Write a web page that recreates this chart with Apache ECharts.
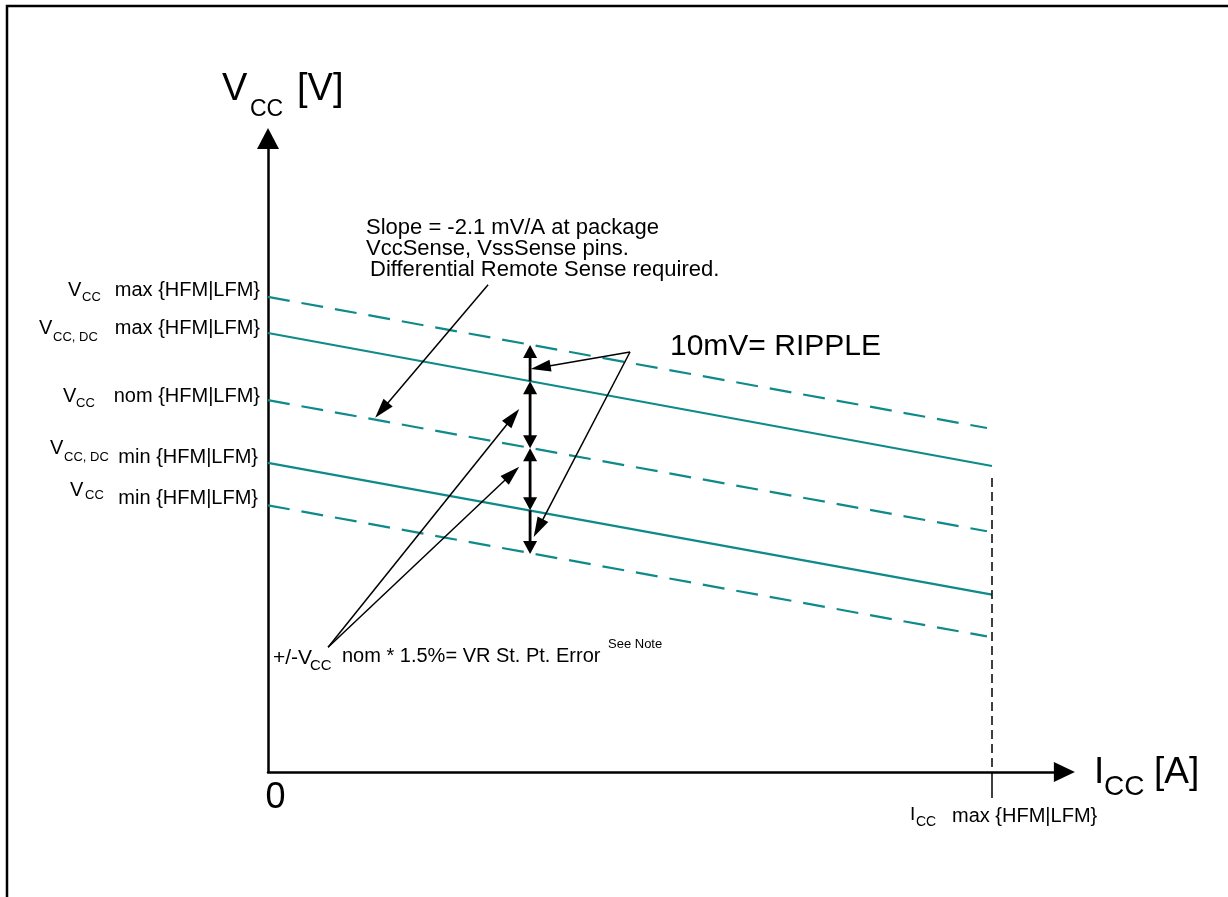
<!DOCTYPE html>
<html>
<head>
<meta charset="utf-8">
<script src="https://cdn.jsdelivr.net/npm/echarts@6/dist/echarts.min.js"></script>
<style>
html,body{margin:0;padding:0;background:#fff;}
#chart{width:1228px;height:897px;}
</style>
</head>
<body>
<div id="chart"></div>
<script>
// ---- data (arbitrary schematic units: x = Icc, y = Vcc) ----
const xRange = [0, 110];
const yRange = [0, 100];
const vccMax   = [[0, 75.0], [99.3, 54.3]];
const vccDcMax = [[0, 69.3], [100, 48.3]];
const vccNom   = [[0, 58.7], [99.3, 38.0]];
const vccDcMin = [[0, 48.8], [100, 28.0]];
const vccMin   = [[0, 42.1], [99.3, 21.4]];
const iccMaxMarker = [[100, 46.4], [100, 0]];
const iccMaxTick   = [[100, 0], [100, -4.1]];
// vertical tolerance arrows: [x1, y1, x2, y2, headAtStart, headAtEnd]
const toleranceArrows = [
  [36.2, 61.7, 36.2, 67.4, 0, 1],
  [36.2, 51.1, 36.2, 61.7, 1, 1],
  [36.2, 41.3, 36.2, 51.1, 1, 1],
  [36.2, 41.3, 36.2, 34.4, 0, 1]
];
// callout arrows: [x1, y1, x2, y2, headAtStart, headAtEnd]
const calloutArrows = [
  [50.0, 66.3, 36.3, 63.6, 0, 1],
  [50.0, 66.3, 36.7, 37.1, 0, 1],
  [30.4, 76.9, 14.8, 55.9, 0, 1],
  [8.3, 19.7, 34.7, 57.3, 0, 1],
  [8.3, 19.7, 34.7, 48.2, 0, 1]
];
// texts
const levelMain = ['V', 'V', 'V', 'V', 'V'];
const levelSub  = ['CC', 'CC, DC', 'CC', 'CC, DC', 'CC'];
const levelRest = ['max {HFM|LFM}', 'max {HFM|LFM}', 'nom {HFM|LFM}', 'min {HFM|LFM}', 'min {HFM|LFM}'];
const slopeNote = ['Slope = -2.1 mV/A at package', 'VccSense, VssSense pins.', 'Differential Remote Sense required.'];
const rippleNote = '10mV= RIPPLE';
const errorNote = ['+/-V', 'CC', 'nom * 1.5%= VR St. Pt. Error', 'See Note'];
const yTitle = ['V', 'CC', '[V]'];
const xTitle = ['I', 'CC', '[A]'];
const xTickLabels = ['0', 'I', 'CC', 'max {HFM|LFM}'];

const FF = '"Liberation Sans", Arial, sans-serif';
const TEAL = '#0f8a8a';

function T(text, x, y, size, align) {
  align = align || 'left';
  return {
    type: 'text', x: x, y: y, silent: true, z: 50,
    style: {
      text: text, fontSize: size, fontFamily: FF, fill: '#000',
      align: align, verticalAlign: 'middle',
      textAlign: align, textVerticalAlign: 'middle'
    }
  };
}

function arrowRenderer(headLen, headW, lw) {
  return function (params, api) {
    const p1 = api.coord([api.value(0), api.value(1)]);
    const p2 = api.coord([api.value(2), api.value(3)]);
    const hs = api.value(4), he = api.value(5);
    const dx = p2[0] - p1[0], dy = p2[1] - p1[1];
    const L = Math.hypot(dx, dy) || 1;
    const ux = dx / L, uy = dy / L;
    const nx = -uy, ny = ux;
    const a = hs ? [p1[0] + ux * headLen * 0.7, p1[1] + uy * headLen * 0.7] : p1;
    const b = he ? [p2[0] - ux * headLen * 0.7, p2[1] - uy * headLen * 0.7] : p2;
    const children = [{
      type: 'line',
      shape: { x1: a[0], y1: a[1], x2: b[0], y2: b[1] },
      style: { stroke: '#000', lineWidth: lw }
    }];
    function head(tip, sx, sy) {
      const bx = tip[0] - sx * headLen, by = tip[1] - sy * headLen;
      return {
        type: 'polygon',
        shape: { points: [tip, [bx + nx * headW / 2, by + ny * headW / 2], [bx - nx * headW / 2, by - ny * headW / 2]] },
        style: { fill: '#000' }
      };
    }
    if (he) children.push(head(p2, ux, uy));
    if (hs) children.push(head(p1, -ux, -uy));
    return { type: 'group', children: children };
  };
}

const levelPos = [
  { r: 260, ry: 290,   vx: 68, vy: 290,   sx: 82, sy: 297.5 },
  { r: 260, ry: 328,   vx: 39, vy: 328,   sx: 53, sy: 337 },
  { r: 260, ry: 396.5, vx: 63, vy: 396.7, sx: 76, sy: 403 },
  { r: 258, ry: 457,   vx: 50, vy: 448.3, sx: 64, sy: 457 },
  { r: 258, ry: 498.3, vx: 70, vy: 490,   sx: 85, sy: 495 }
];

const graphics = [
  { type: 'polyline', silent: true, shape: { points: [[7, 897], [7, 6], [1228, 6]] }, style: { stroke: '#000', lineWidth: 2.5, fill: null } },
  T(yTitle[0], 222, 90, 38), T(yTitle[1], 250, 110, 23), T(yTitle[2], 297, 90, 38),
  T(xTitle[0], 1094, 773, 37), T(xTitle[1], 1104, 787, 28), T(xTitle[2], 1154, 773, 37),
  T(xTickLabels[0], 265.5, 798, 36),
  T(xTickLabels[1], 910, 815, 19), T(xTickLabels[2], 916, 822, 14), T(xTickLabels[3], 952, 816, 20),
  T(slopeNote[0], 366, 228, 22), T(slopeNote[1], 366, 249, 22), T(slopeNote[2], 370, 269.5, 22),
  T(rippleNote, 670, 347, 30),
  T(errorNote[0], 273, 658, 21), T(errorNote[1], 310, 666, 15), T(errorNote[2], 342, 656.5, 20), T(errorNote[3], 608, 644, 13)
];
levelPos.forEach(function (p, i) {
  graphics.push(T(levelRest[i], p.r, p.ry, 20, 'right'));
  graphics.push(T(levelMain[i], p.vx, p.vy, 20));
  graphics.push(T(levelSub[i], p.sx, p.sy, 13));
});

function levelSeries(name, data, dashed) {
  return {
    name: name, type: 'line', data: data, showSymbol: false, symbol: 'none', silent: true,
    lineStyle: { color: TEAL, width: 2.2, type: dashed ? [22, 12] : 'solid' }, z: 3
  };
}

const chart = echarts.init(document.getElementById('chart'), null, { renderer: 'canvas' });
chart.setOption({
  animation: false,
  backgroundColor: '#fff',
  grid: { left: 268, top: 138.5, width: 796.4, bottom: 125, containLabel: false },
  xAxis: {
    type: 'value', min: xRange[0], max: xRange[1],
    axisLine: { show: true, symbol: ['none', 'triangle'], symbolSize: [20, 21], lineStyle: { color: '#000', width: 2.5 } },
    axisTick: { show: false }, axisLabel: { show: false }, splitLine: { show: false }
  },
  yAxis: {
    type: 'value', min: yRange[0], max: yRange[1],
    axisLine: { show: true, symbol: ['none', 'triangle'], symbolSize: [22, 21], lineStyle: { color: '#000', width: 2.5 } },
    axisTick: { show: false }, axisLabel: { show: false }, splitLine: { show: false }
  },
  series: [
    levelSeries('Vcc max', vccMax, true),
    levelSeries('Vcc,dc max', vccDcMax, false),
    levelSeries('Vcc nom', vccNom, true),
    levelSeries('Vcc,dc min', vccDcMin, false),
    levelSeries('Vcc min', vccMin, true),
    { name: 'Icc max', type: 'line', data: iccMaxMarker, showSymbol: false, symbol: 'none', silent: true, clip: false,
      lineStyle: { color: '#000', width: 1.5, type: [9, 5] } },
    { name: 'Icc max tick', type: 'line', data: iccMaxTick, showSymbol: false, symbol: 'none', silent: true, clip: false,
      lineStyle: { color: '#000', width: 1.5 } },
    { name: 'tolerance', type: 'custom', data: toleranceArrows, renderItem: arrowRenderer(13, 14, 2.8), silent: true, z: 10,
      encode: { x: [0, 2], y: [1, 3] } },
    { name: 'callouts', type: 'custom', data: calloutArrows, renderItem: arrowRenderer(20, 12, 1.5), silent: true, z: 10,
      encode: { x: [0, 2], y: [1, 3] } }
  ],
  graphic: graphics
});
</script>
</body>
</html>
